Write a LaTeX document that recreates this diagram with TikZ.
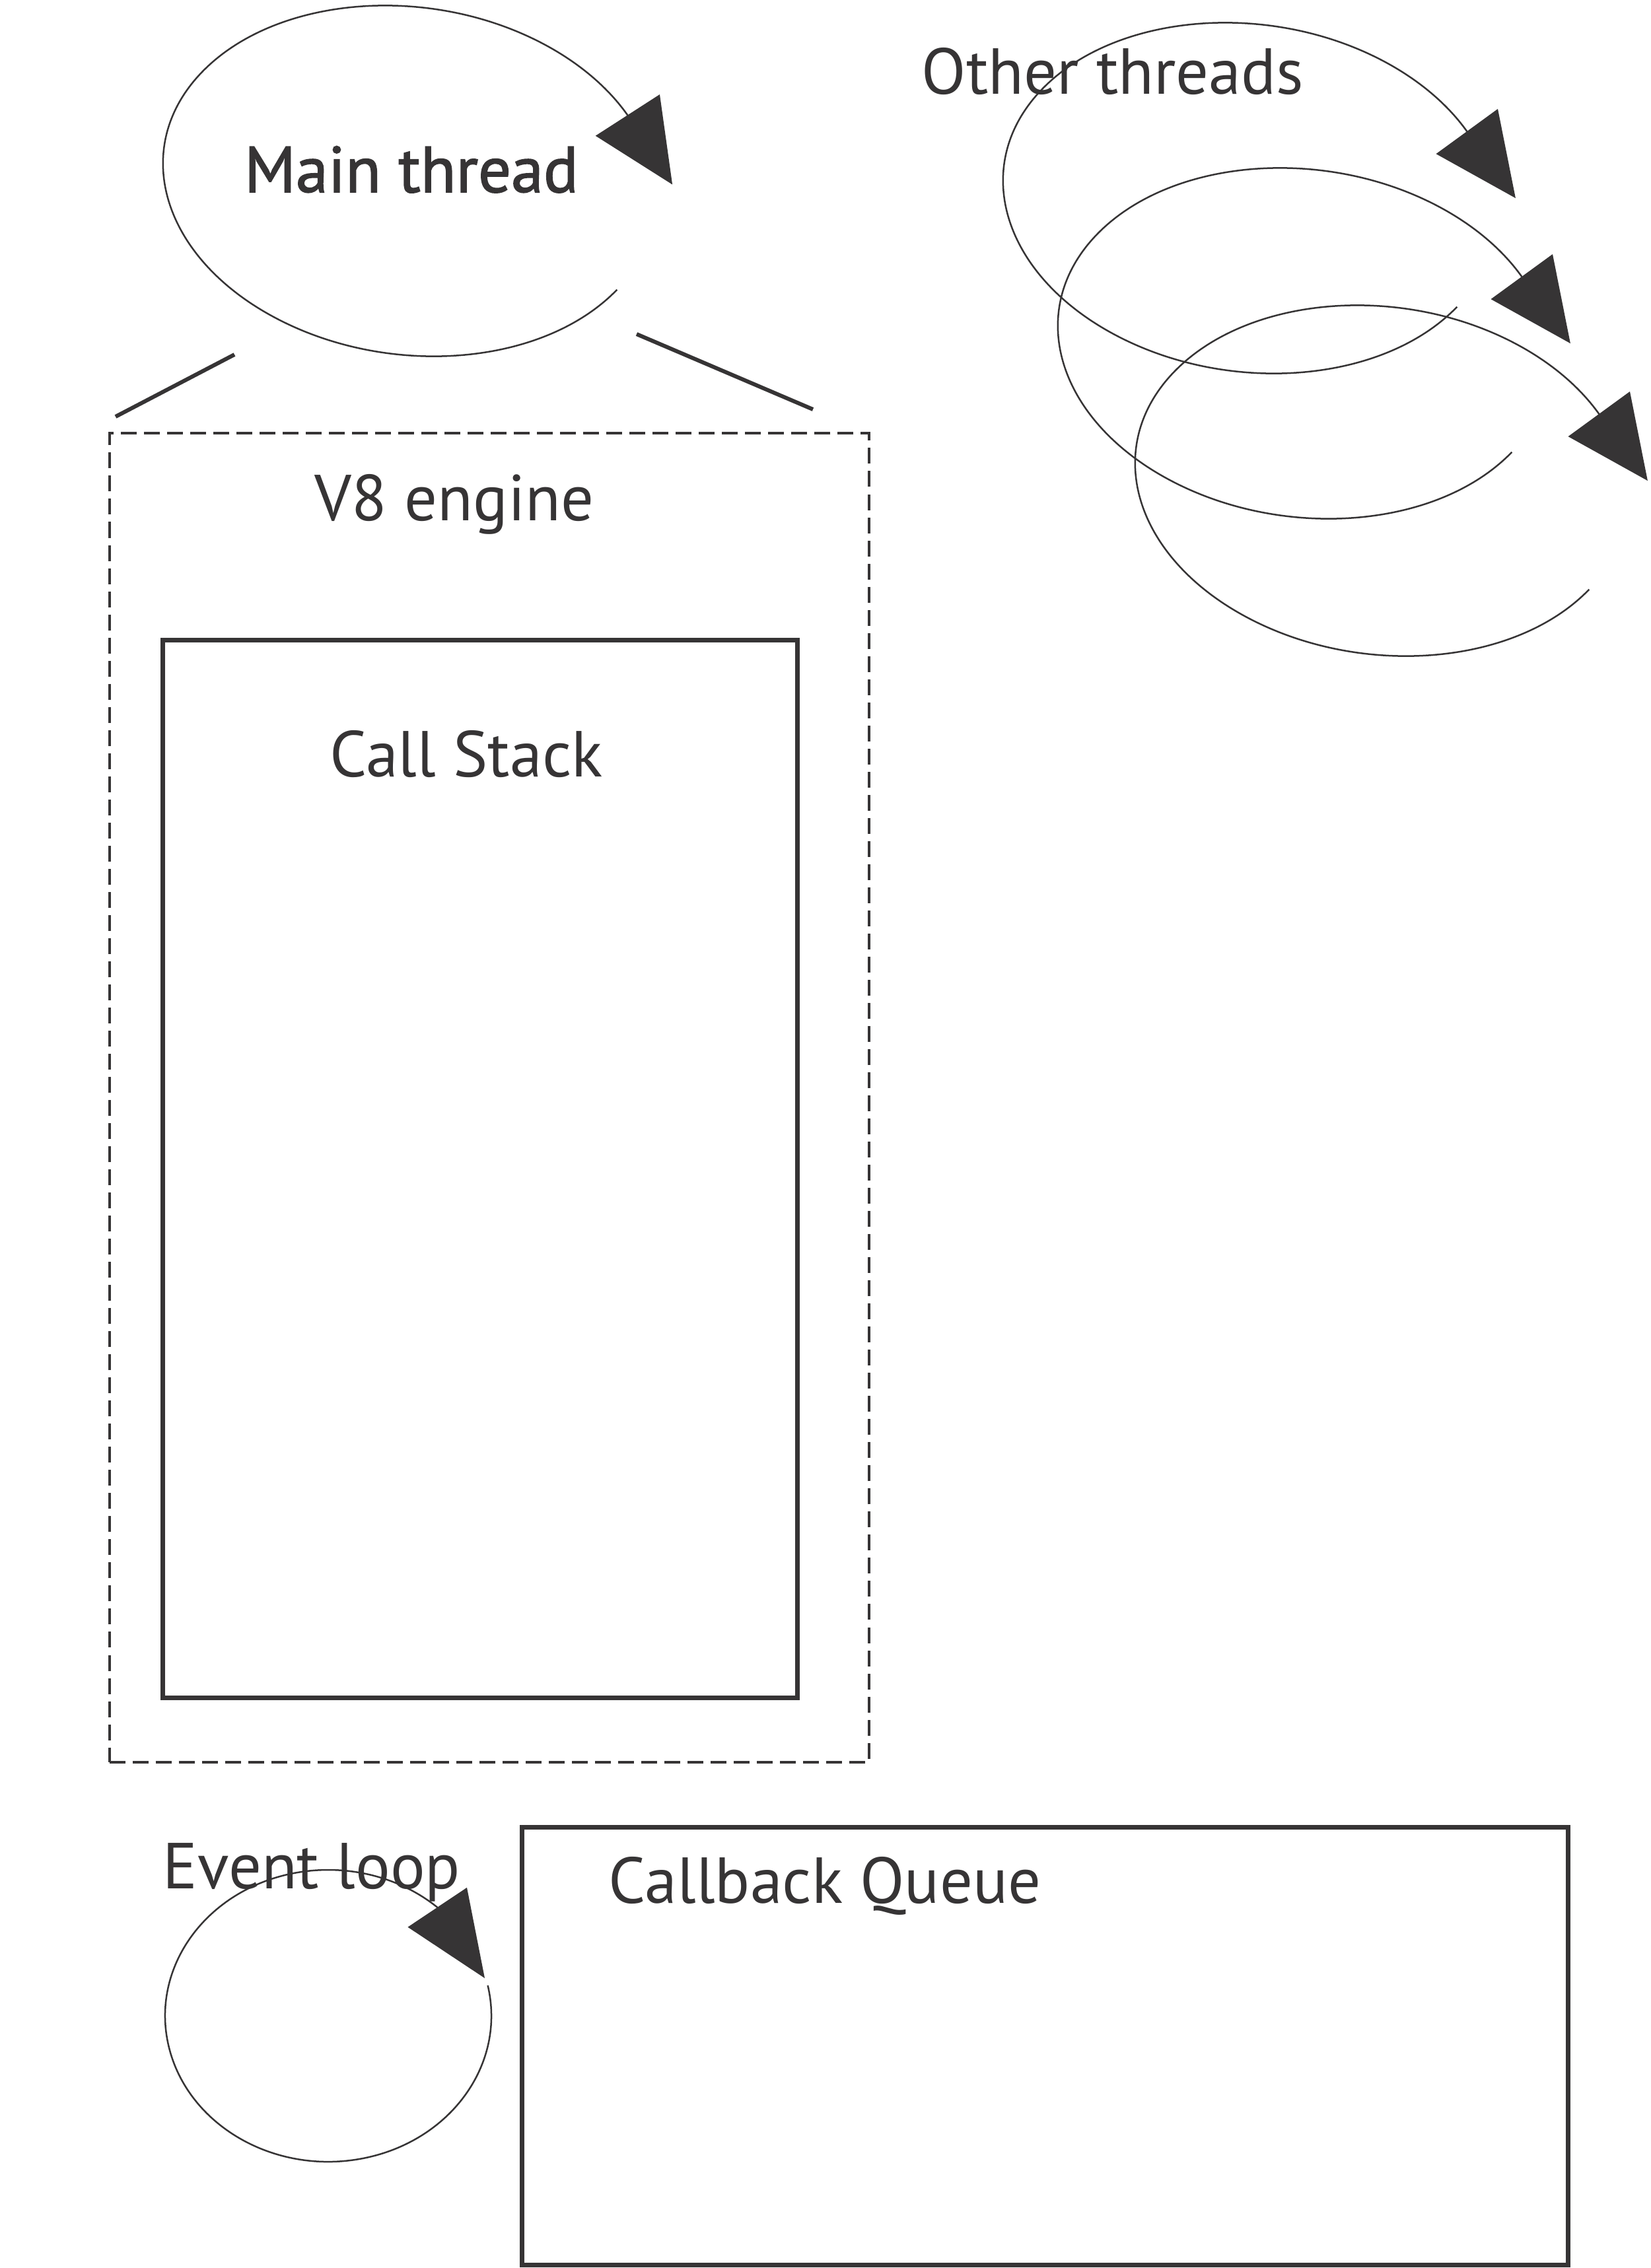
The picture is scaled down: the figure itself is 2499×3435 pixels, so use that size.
\documentclass[tikz,border=0pt]{standalone}
\usepackage{fontspec}
\setmainfont{PT Sans}
\newfontfamily\semibold[FakeBold=1.6]{PT Sans}
\usetikzlibrary{arrows.meta,calc,positioning}
\definecolor{ink}{HTML}{363435}
\tikzset{
  loopline/.style={draw=ink, line width=0.25mm, -{Triangle[length=12.5mm,width=11.5mm]}},
  lbl/.style={anchor=base, inner sep=0pt, text=ink, font=\fontsize{28}{34}\selectfont},
  box/.style={draw=ink, line width=0.7mm, inner sep=0pt},
  zoomline/.style={draw=ink, line width=0.6mm},
}
\begin{document}
\begin{tikzpicture}[x=0.01cm, y=-0.01cm]
\useasboundingbox (0,0) rectangle (2499,3435);

  % main thread loop
  \coordinate (mc) at (620,274);
  \begin{scope}[shift={(mc)}, rotate=-8]
    \draw[loopline] (27:375 and 263) arc[start angle=27, end angle=327, x radius=375, y radius=263] -- (395,-50);
  \end{scope}
  \node[lbl, font=\fontsize{28}{34}\selectfont\semibold] (mt) at (623,291) {Main thread};

  % other threads
  \foreach \cx/\cy [count=\i] in {1892/300, 1975/520, 2092/728}{
    \coordinate (oc\i) at (\cx,\cy);
    \begin{scope}[shift={(oc\i)}, rotate=-8]
      \draw[loopline] (27:375 and 263) arc[start angle=27, end angle=327, x radius=375, y radius=263] -- (399,-56);
    \end{scope}
  }
  \node[lbl] (ot) at (1685,142) {Other threads};

  % zoom lines
  \coordinate (la) at (355,537);
  \coordinate (lb) at (175,631);
  \coordinate (ra) at (964,506);
  \coordinate (rb) at (1231,620);
  \draw[zoomline] (la) -- (lb);
  \draw[zoomline] (ra) -- (rb);

  % engine and stack
  \node[box, line width=0.4mm, dash pattern=on 2.4mm off 1.1mm, minimum width=11.5cm, minimum height=20.11cm] (v8) at (741,1662.5) {};
  \node[lbl] (v8l) at (688,788) {V8 engine};
  \node[box, minimum width=9.6cm, minimum height=16.01cm] (cs) at (727,1770.5) {};
  \node[lbl] (csl) at (706,1176) {Call Stack};

  % event loop and queue
  \coordinate (ec) at (497,3053);
  \draw[loopline, -{Triangle[length=12.9mm,width=10.7mm]}] (ec) ++(-12:247 and 221) arc[start angle=-12, end angle=312, x radius=247, y radius=221] -- ($(ec)+(237,-57)$);
  \node[lbl] (el) at (472,2860) {Event loop};
  \node[box, minimum width=15.83cm, minimum height=6.62cm] (cq) at (1582.5,3099) {};
  \node[lbl] (cql) at (1249,2882) {Callback Queue};
\end{tikzpicture}
\end{document}
